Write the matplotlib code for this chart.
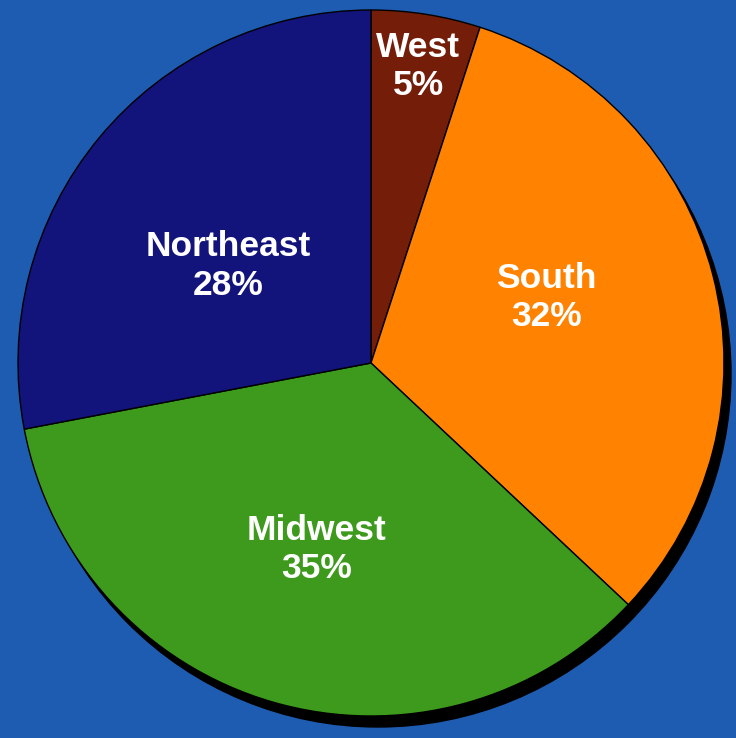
import numpy as np
import matplotlib
matplotlib.use("Agg")
import matplotlib.pyplot as plt
from matplotlib.patches import Circle

# 地域別の割合 (%)
regions = ["West", "South", "Midwest", "Northeast"]
shares = [5, 32, 35, 28]
colors = ["#741d08", "#ff8200", "#3d9a1c", "#13137c"]

BG = "#1e5cb2"
W, H = 736, 738
CX, CY, R = 371, 375, 353
# ラベル位置: 中心からの距離 (半径比) と角度の補正 [deg]
LABEL_R = [0.85, 0.53, 0.55, 0.49]
LABEL_DA = [0.0, 6.0, 0.0, 5.5]

fig = plt.figure(figsize=(W / 100, H / 100), dpi=100)
fig.patch.set_facecolor(BG)
ax = fig.add_axes([0, 0, 1, 1])
ax.set_facecolor(BG)

# 右下の影
ax.add_patch(Circle((CX + 7, CY - 11), R, color="black", zorder=1))

wedges, _ = ax.pie(shares, colors=colors, startangle=90, counterclock=False,
                   center=(CX, CY), radius=R, frame=True,
                   wedgeprops=dict(edgecolor="black", linewidth=1.0, zorder=2))
ax.set_xlim(0, W)
ax.set_ylim(0, H)
ax.set_aspect("equal")
ax.axis("off")

for w, name, pct, fr, da in zip(wedges, regions, shares, LABEL_R, LABEL_DA):
    th = np.deg2rad((w.theta1 + w.theta2) / 2 + da)
    x = CX + fr * R * np.cos(th)
    y = CY + fr * R * np.sin(th)
    ax.text(x, y, f"{name}\n{pct}%", ha="center", va="center", color="white",
            fontsize=25.5, fontweight="bold", family="Liberation Sans",
            linespacing=1.2, zorder=5)

fig.savefig("out.png", dpi=100, facecolor=BG)
